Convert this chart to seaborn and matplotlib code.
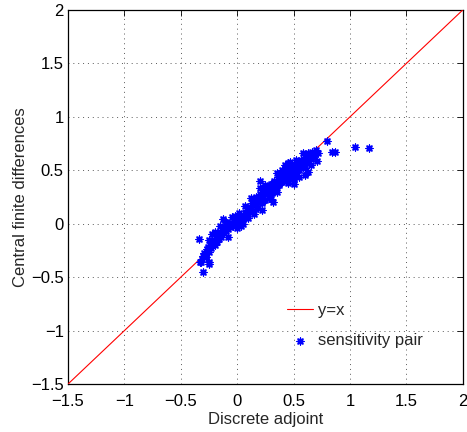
import matplotlib
matplotlib.use("Agg")
import matplotlib.pyplot as plt
import seaborn as sns
import pandas as pd

# Sensitivity pairs: discrete adjoint (x) vs central finite differences (y)
adjoint = [
    -0.33, -0.31, -0.30, -0.29, -0.28, -0.27, -0.26, -0.25, -0.24, -0.23,
    -0.22, -0.21, -0.20, -0.19, -0.18, -0.17, -0.16, -0.15, -0.14, -0.13,
    -0.12, -0.11, -0.10, -0.09, -0.08, -0.07, -0.06, -0.05, -0.04, -0.03,
    -0.02, -0.01, 0.00, 0.01, 0.02, 0.03, 0.04, 0.05, 0.06, 0.07,
    0.08, 0.09, 0.10, 0.11, 0.12, 0.13, 0.14, 0.15, 0.16, 0.17,
    0.18, 0.19, 0.20, 0.21, 0.22, 0.23, 0.24, 0.25, 0.26, 0.27,
    0.28, 0.29, 0.30, 0.31, 0.32, 0.33, 0.34, 0.35, 0.36, 0.37,
    0.38, 0.39, 0.40, 0.41, 0.42, 0.43, 0.44, 0.45, 0.46, 0.47,
    0.48, 0.49, 0.50, 0.51, 0.52, 0.53, 0.54, 0.55, 0.56, 0.57,
    0.58, 0.59, 0.60, 0.62, 0.63, 0.65, 0.66, 0.68, 0.70,
    -0.05, 0.00, 0.05, 0.10, -0.15, 0.20, 0.25, 0.30, 0.35, 0.40,
    0.45, 0.50, 0.55, 0.60, 0.65, 0.35, 0.42, 0.47, 0.52, 0.58,
    -0.10, -0.20, -0.25, 0.12, 0.07, 0.02, -0.02, 0.15, 0.22, 0.03,
    -0.08,
    -0.34, -0.30, -0.32, -0.25, -0.25, 1.04, 1.17, 0.80, 0.84, 0.87,
    0.72, 0.63, 0.71, 0.45, 0.20, 0.32, 0.50, 0.60, 0.63, -0.13, -0.22,
]
finite_diff = [
    -0.36, -0.33, -0.30, -0.27, -0.31, -0.24, -0.22, -0.26, -0.20, -0.23,
    -0.18, -0.15, -0.20, -0.13, -0.17, -0.10, -0.14, -0.08, -0.12, -0.06,
    -0.09, -0.03, -0.07, -0.02, -0.05, 0.00, -0.03, 0.01, -0.02, 0.02,
    0.00, 0.03, 0.01, 0.04, 0.02, 0.05, 0.03, 0.07, 0.05, 0.10,
    0.08, 0.13, 0.11, 0.16, 0.14, 0.19, 0.12, 0.22, 0.18, 0.25,
    0.15, 0.21, 0.28, 0.24, 0.19, 0.27, 0.31, 0.22, 0.29, 0.34,
    0.26, 0.32, 0.37, 0.29, 0.35, 0.40, 0.33, 0.38, 0.44, 0.36,
    0.41, 0.46, 0.39, 0.43, 0.48, 0.41, 0.45, 0.50, 0.43, 0.47,
    0.52, 0.45, 0.49, 0.55, 0.47, 0.52, 0.57, 0.50, 0.54, 0.60,
    0.53, 0.57, 0.62, 0.58, 0.64, 0.61, 0.67, 0.63, 0.69,
    0.06, -0.04, 0.00, 0.05, -0.02, 0.33, 0.36, 0.23, 0.30, 0.50,
    0.38, 0.42, 0.44, 0.52, 0.55, 0.47, 0.55, 0.58, 0.60, 0.66,
    0.02, -0.08, -0.15, 0.24, 0.17, 0.10, 0.07, 0.09, 0.13, -0.02,
    -0.12,
    -0.14, -0.45, -0.36, -0.36, -0.38, 0.72, 0.71, 0.77, 0.67, 0.67,
    0.66, 0.66, 0.59, 0.57, 0.40, 0.20, 0.37, 0.46, 0.48, 0.04, -0.10,
]
line_x = [-1.5, 2.0]
line_y = [-1.5, 2.0]
ticks = [-1.5, -1, -0.5, 0, 0.5, 1, 1.5, 2]
tick_labels = ["\u22121.5", "\u22121", "\u22120.5", "0", "0.5", "1", "1.5", "2"]

sns.set_style("white")
plt.rcParams["font.family"] = ["Liberation Sans", "DejaVu Sans"]

fig = plt.figure(figsize=(4.67, 4.32), dpi=100)
ax = fig.add_axes([0.1456, 0.111, 0.8454, 0.866])

pts = pd.DataFrame({"adjoint": adjoint, "fd": finite_diff})
ref = pd.DataFrame({"x": line_x, "y": line_y})

sns.lineplot(data=ref, x="x", y="y", color="red", linewidth=0.8, ax=ax,
             label="y=x", zorder=3)
sns.scatterplot(data=pts, x="adjoint", y="fd", marker=(8, 2, 0), s=24,
                color="blue", edgecolor="blue", linewidth=1.0, ax=ax,
                label="sensitivity pair", zorder=4)

ax.set_xlim(-1.5, 2)
ax.set_ylim(-1.5, 2)
ax.set_xticks(ticks)
ax.set_yticks(ticks)
ax.set_xticklabels(tick_labels, fontsize=12)
ax.set_yticklabels(tick_labels, fontsize=12)
ax.set_xlabel("Discrete adjoint", fontsize=12, labelpad=2)
ax.set_ylabel("Central finite differences", fontsize=12, labelpad=2)

ax.grid(True, linestyle=(0, (1, 4)), color="0.35", linewidth=0.7)
ax.tick_params(direction="in", length=4, width=0.6, top=True, right=True,
               pad=3, colors="black")
ax.tick_params(axis="x", pad=7)
for s in ax.spines.values():
    s.set_visible(True)
    s.set_color("black")
    s.set_linewidth(0.9)

leg = ax.legend(loc="upper left", bbox_to_anchor=(0.554, 0.216), frameon=False,
                fontsize=12, handlelength=1.6, handletextpad=0.25,
                labelspacing=0.9, borderaxespad=0, borderpad=0)

fig.savefig("out.png", dpi=100)
